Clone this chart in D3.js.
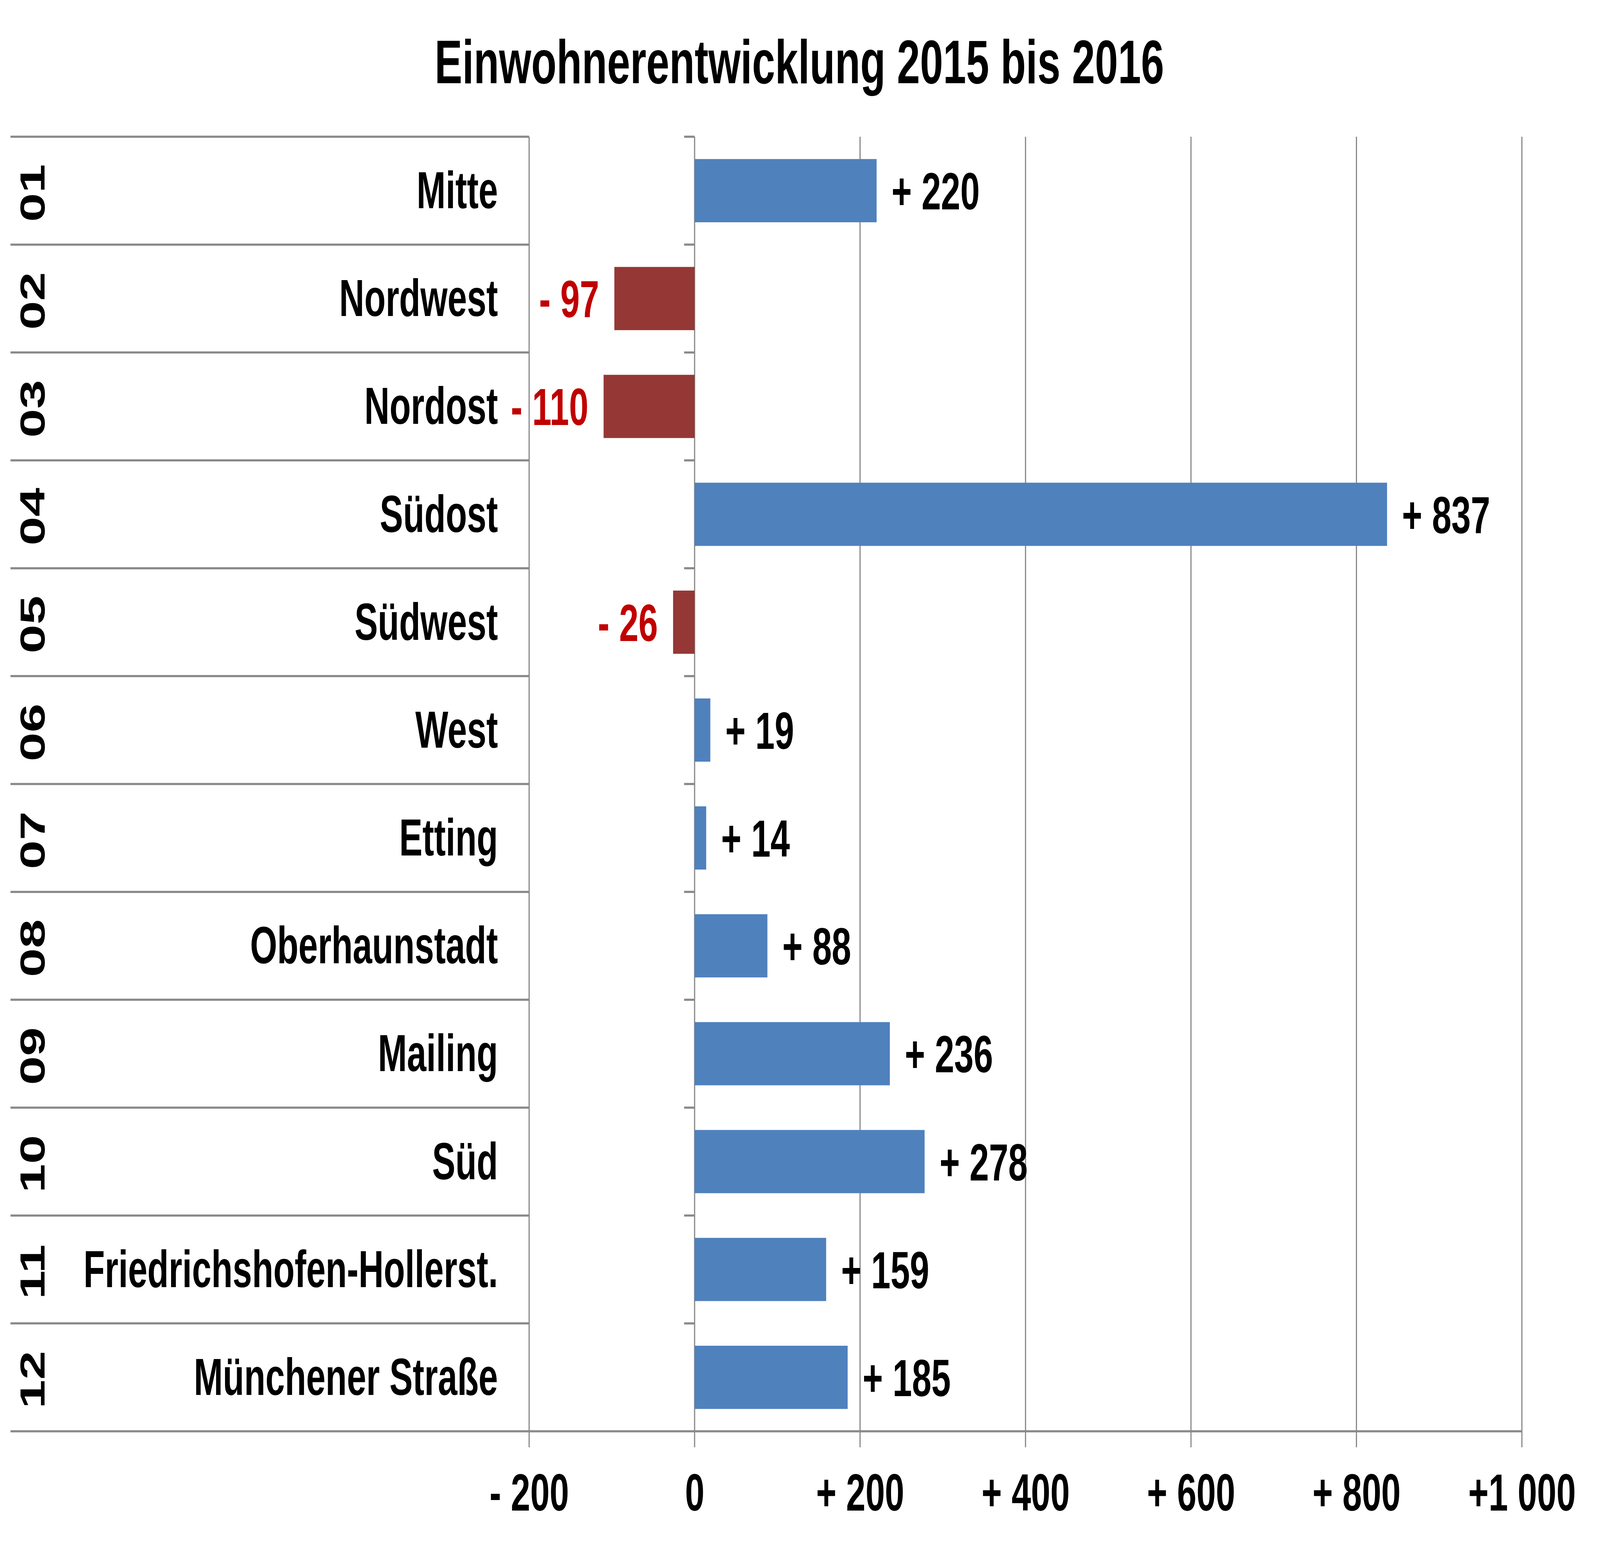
<!DOCTYPE html>
<html>
<head>
<meta charset="utf-8">
<script src="https://cdn.jsdelivr.net/npm/d3@7"></script>
<style>
  html, body { margin: 0; padding: 0; background: #fff; overflow: hidden; width: 100%; height: 100%; }
  svg { display: block; width: 100vw; height: 100vh; }
  text { font-family: "Liberation Sans", Arial, Helvetica, sans-serif; font-weight: bold; }
</style>
</head>
<body>
<script>
// ---- data ----
const codes = ["01","02","03","04","05","06","07","08","09","10","11","12"];
const districts = ["Mitte","Nordwest","Nordost","Südost","Südwest","West","Etting","Oberhaunstadt","Mailing","Süd","Friedrichshofen-Hollerst.","Münchener Straße"];
const changes = [220, -97, -110, 837, -26, 19, 14, 88, 236, 278, 159, 185];
const valueLabels = ["+ 220","- 97","- 110","+ 837","- 26","+ 19","+ 14","+ 88","+ 236","+ 278","+ 159","+ 185"];
const tickValues = [-200, 0, 200, 400, 600, 800, 1000];
const tickLabels = ["- 200","0","+ 200","+ 400","+ 600","+ 800","+1 000"];
const chartTitle = "Einwohnerentwicklung 2015 bis 2016";

// ---- layout (drawn in a 6105 x 3950 coordinate frame, fitted to the window) ----
const W = 6105, H = 3950;
const plotTop = 350, plotBottom = 3664;
const tableLeft = 40;
const grey = "#898989";
const fs = 133;

const svg = d3.select("body").append("svg")
  .attr("viewBox", `0 0 ${W} ${H}`)
  .attr("preserveAspectRatio", "none");

const x = d3.scaleLinear().domain([-200, 1000]).range([2019, 5807]);
const rows = d3.scaleBand().domain(districts).range([plotTop, plotBottom]).padding(0);
const bars = d3.scaleBand().domain(districts).range([plotTop, plotBottom]).paddingInner(0.414).paddingOuter(0.207);

// title
svg.append("text").attr("x", 3050).attr("y", 213).attr("text-anchor", "middle")
  .attr("font-size", 158).attr("fill", "#000").text(chartTitle);

// vertical gridlines (with tick extension below axis)
svg.append("g").selectAll("line").data(tickValues).join("line")
  .attr("x1", d => x(d)).attr("x2", d => x(d))
  .attr("y1", plotTop).attr("y2", plotBottom + 41)
  .attr("stroke", grey).attr("stroke-width", 4.5);

// row boundary lines in table area
const boundaries = districts.map(d => rows(d));
svg.append("g").selectAll("line").data(boundaries).join("line")
  .attr("x1", tableLeft).attr("x2", x(-200))
  .attr("y1", d => d).attr("y2", d => d)
  .attr("stroke", grey).attr("stroke-width", 5.5);

// category-axis ticks at zero line
svg.append("g").selectAll("line").data(boundaries).join("line")
  .attr("x1", x(0) - 40).attr("x2", x(0))
  .attr("y1", d => d).attr("y2", d => d)
  .attr("stroke", grey).attr("stroke-width", 5.5);

// bottom axis line across
svg.append("line").attr("x1", tableLeft).attr("x2", x(1000))
  .attr("y1", plotBottom).attr("y2", plotBottom)
  .attr("stroke", grey).attr("stroke-width", 5.5);

// x axis labels via d3 axis
const axis = d3.axisBottom(x).tickValues(tickValues)
  .tickFormat((d, i) => tickLabels[i]).tickSize(0).tickPadding(0);
const gx = svg.append("g").attr("transform", `translate(0,${plotBottom})`).call(axis);
gx.select(".domain").remove();
gx.selectAll("text").attr("font-size", fs).attr("fill", "#000")
  .attr("dy", null).attr("y", 203)
  .attr("font-family", '"Liberation Sans", Arial, sans-serif').attr("font-weight", "bold");

// bars
const data = districts.map((d, i) => ({ d, v: changes[i], label: valueLabels[i], code: codes[i] }));
svg.append("g").selectAll("rect").data(data).join("rect")
  .attr("x", o => x(Math.min(0, o.v)))
  .attr("width", o => Math.abs(x(o.v) - x(0)))
  .attr("y", o => bars(o.d)).attr("height", bars.bandwidth())
  .attr("fill", o => o.v < 0 ? "#953735" : "#4F81BD");

// value labels
svg.append("g").selectAll("text").data(data).join("text")
  .attr("x", o => o.v < 0 ? x(o.v) - 58 : x(o.v) + 57)
  .attr("y", o => rows(o.d) + rows.bandwidth() / 2 + 48)
  .attr("text-anchor", o => o.v < 0 ? "end" : "start")
  .attr("font-size", fs)
  .attr("fill", o => o.v < 0 ? "#C00000" : "#000")
  .text(o => o.label);

// district names
svg.append("g").selectAll("text").data(data).join("text")
  .attr("x", 1900).attr("y", o => rows(o.d) + rows.bandwidth() / 2 + 45)
  .attr("text-anchor", "end").attr("font-size", fs).attr("fill", "#000")
  .text(o => o.d);

// district codes, rotated
svg.append("g").selectAll("text").data(data).join("text")
  .attr("transform", o => `translate(170,${rows(o.d) + rows.bandwidth() / 2 + 6}) rotate(-90)`)
  .attr("text-anchor", "middle").attr("font-size", fs).attr("fill", "#000")
  .text(o => o.code);
</script>
</body>
</html>
